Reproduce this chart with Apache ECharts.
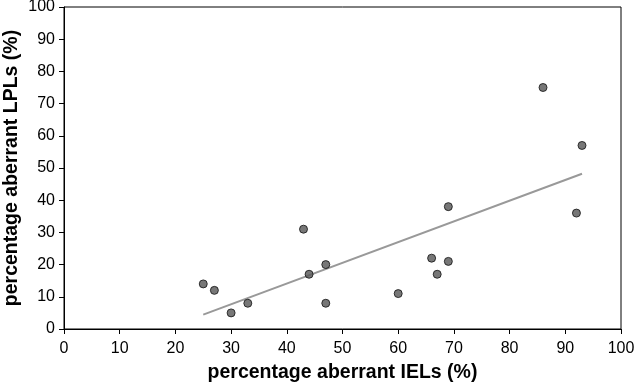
<!DOCTYPE html>
<html><head><meta charset="utf-8">
<script src="https://cdn.jsdelivr.net/npm/echarts@6/dist/echarts.min.js"></script>
<style>html,body{margin:0;padding:0;background:#fff}#c{width:635px;height:382px}</style>
</head><body><div id="c"></div>
<script>
const ielX = [25,27,30,33,43,44,47,47,60,66,67,69,69,86,92,93];
const lplY = [14,12,5,8,31,17,20,8,11,22,17,38,21,75,36,57];
const fitX = [25,93];
const fitY = [4.45,48.2];
const xTitle = 'percentage aberrant IELs (%)';
const yTitle = 'percentage aberrant LPLs (%)';

const chart = echarts.init(document.getElementById('c'));
const font = 'Liberation Sans, Arial, sans-serif';
const axisCommon = {
  min:0, max:100, interval:10,
  axisLine:{show:true,lineStyle:{color:'#000',width:1}},
  axisTick:{show:true,length:5,lineStyle:{color:'#000'}},
  axisLabel:{color:'#000',fontSize:16,fontFamily:font},
  splitLine:{show:false},
  nameLocation:'middle',
  nameTextStyle:{color:'#000',fontSize:19.5,fontWeight:'bold',fontFamily:font}
};
chart.setOption({
  animation:false,
  grid:{left:64,right:14,top:7,bottom:53,containLabel:false,outerBoundsMode:'none',show:true,borderColor:'#000',borderWidth:1,backgroundColor:'transparent'},
  xAxis:Object.assign({},axisCommon,{type:'value',name:xTitle,nameGap:34,axisLabel:Object.assign({},axisCommon.axisLabel,{margin:12})}),
  yAxis:Object.assign({},axisCommon,{type:'value',name:yTitle,nameGap:42,nameMoveOverlap:false,axisLabel:Object.assign({},axisCommon.axisLabel,{margin:9})}),
  series:[
    {type:'line',data:fitX.map((x,i)=>[x,fitY[i]]),showSymbol:false,symbol:'none',lineStyle:{color:'#999',width:2},z:1},
    {type:'scatter',data:ielX.map((x,i)=>[x,lplY[i]]),symbol:'circle',symbolSize:8,
     itemStyle:{color:'#555',borderColor:'#111',borderWidth:1},z:2}
  ]
});
</script></body></html>
